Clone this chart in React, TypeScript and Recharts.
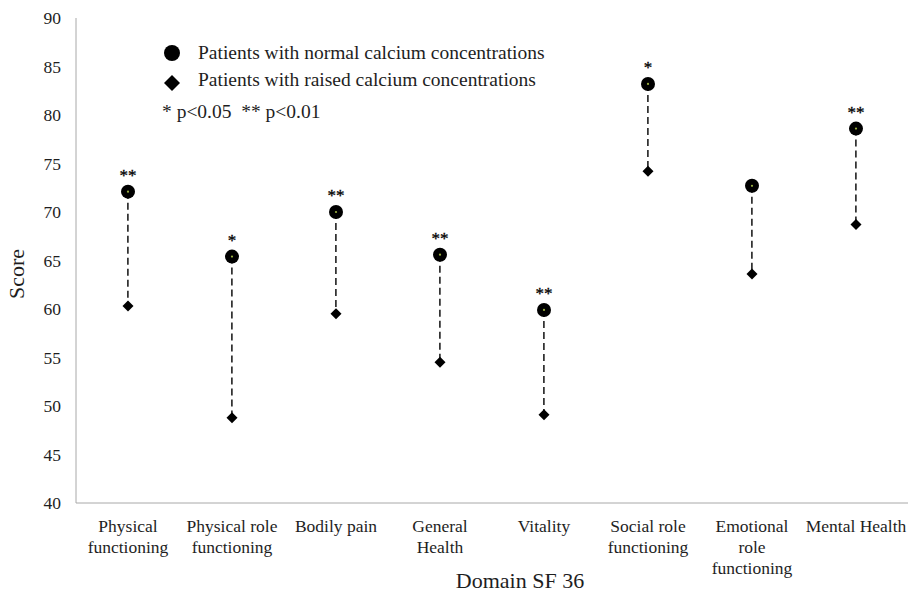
import React from "react";
import { ComposedChart, XAxis, YAxis, Bar, Line, Legend, Label } from "recharts";

const categories = [
  "Physical\nfunctioning",
  "Physical role\nfunctioning",
  "Bodily pain",
  "General\nHealth",
  "Vitality",
  "Social role\nfunctioning",
  "Emotional\nrole\nfunctioning",
  "Mental Health",
];
const normalScores = [72.1, 65.4, 70.0, 65.6, 59.9, 83.2, 72.7, 78.6];
const raisedScores = [60.3, 48.8, 59.5, 54.5, 49.1, 74.2, 63.6, 68.7];
const significance = ["**", "*", "**", "**", "**", "*", "", "**"];
const yTicks = [40, 45, 50, 55, 60, 65, 70, 75, 80, 85, 90];

const seriesNames = [
  "Patients with normal calcium concentrations",
  "Patients with raised calcium concentrations",
];
const pNote = "* p<0.05  ** p<0.01";

const data = categories.map((name, i) => ({
  name,
  normal: normalScores[i],
  raised: raisedScores[i],
  range: [raisedScores[i], normalScores[i]],
  sig: significance[i],
}));

const FONT = "'Liberation Serif', 'Times New Roman', serif";
const TEXT = "#1e1e1e";

const XTick = (props: any) => {
  const { x, y, payload } = props;
  const lines = String(payload.value).split("\n");
  return (
    <g>
      {lines.map((l, i) => (
        <text key={i} x={x} y={y + 27 + i * 21} textAnchor="middle" fontFamily={FONT} fontSize={17.5} fill={TEXT}>
          {l}
        </text>
      ))}
    </g>
  );
};

const DashShape = (props: any) => {
  const { x, y, width, height } = props;
  if (x == null || y == null) return null;
  const cx = x + width / 2;
  return <line x1={cx} x2={cx} y1={y} y2={y + height} stroke="#111" strokeWidth={1.5} strokeDasharray="7 4" />;
};

const CircleDot = (props: any) => {
  const { cx, cy, index, payload } = props;
  if (cx == null || cy == null) return <g key={index} />;
  return (
    <g key={index}>
      <circle cx={cx} cy={cy} r={7} fill="#000" />
      <circle cx={cx} cy={cy} r={1.1} fill="#9bb040" />
      {payload && payload.sig ? (
        <text x={cx} y={cy - 11} textAnchor="middle" fontFamily={FONT} fontSize={17} fill="#000" stroke="#000" strokeWidth={0.3}>
          {payload.sig}
        </text>
      ) : null}
    </g>
  );
};

const DiamondDot = (props: any) => {
  const { cx, cy, index } = props;
  if (cx == null || cy == null) return <g key={index} />;
  const s = 5.5;
  return <path key={index} d={`M${cx},${cy - s}L${cx + s},${cy}L${cx},${cy + s}L${cx - s},${cy}Z`} fill="#000" />;
};

const LegendContent = () => (
  <div style={{ position: "relative", width: 600, height: 130, fontFamily: FONT, color: TEXT }}>
    <svg style={{ position: "absolute", left: 162, top: 43 }} width={20} height={20}>
      <circle cx={10} cy={10} r={8} fill="#000" />
    </svg>
    <div style={{ position: "absolute", left: 198, top: 41, fontSize: 19.5, lineHeight: "24px", whiteSpace: "nowrap" }}>
      {seriesNames[0]}
    </div>
    <svg style={{ position: "absolute", left: 162, top: 73 }} width={20} height={20}>
      <path d="M10,2L18,10L10,18L2,10Z" fill="#000" />
    </svg>
    <div style={{ position: "absolute", left: 198, top: 68, fontSize: 19.5, lineHeight: "24px", whiteSpace: "nowrap" }}>
      {seriesNames[1]}
    </div>
    <div style={{ position: "absolute", left: 162, top: 100, fontSize: 19.5, lineHeight: "24px", whiteSpace: "pre" }}>
      {pNote}
    </div>
  </div>
);

export default function App() {
  return (
    <div style={{ position: "absolute", left: 0, top: 0, background: "#fff" }}>
      <ComposedChart width={908} height={594} data={data} margin={{ top: 18, right: 0, bottom: 0, left: 0 }}>
        <XAxis
          dataKey="name"
          interval={0}
          height={91}
          tickLine={false}
          tickSize={0}
          axisLine={{ stroke: "#a8a8a8", strokeWidth: 1 }}
          tick={<XTick />}
        >
          <Label
            content={() => (
              <text x={520} y={588} textAnchor="middle" fontFamily={FONT} fontSize={22} fill={TEXT}>
                Domain SF 36
              </text>
            )}
          />
        </XAxis>
        <YAxis
          type="number"
          domain={[40, 90]}
          ticks={yTicks}
          width={76}
          tickLine={false}
          tickSize={0}
          tickMargin={15}
          axisLine={{ stroke: "#a8a8a8", strokeWidth: 1 }}
          tick={{ fontFamily: FONT, fontSize: 17.5, fill: TEXT }}
        >
          <Label
            content={() => (
              <text
                x={24}
                y={274}
                textAnchor="middle"
                fontFamily={FONT}
                fontSize={22}
                fill={TEXT}
                transform="rotate(-90 24 274)"
              >
                Score
              </text>
            )}
          />
        </YAxis>
        <Legend layout="horizontal" verticalAlign="middle" align="center" wrapperStyle={{ top: 0, left: 0, width: 600, height: 130 }} content={<LegendContent />} />
        <Bar dataKey="range" isAnimationActive={false} shape={<DashShape />} fill="none" />
        <Line dataKey="raised" stroke="none" isAnimationActive={false} dot={DiamondDot} activeDot={false} legendType="diamond" />
        <Line dataKey="normal" stroke="none" isAnimationActive={false} dot={CircleDot} activeDot={false} legendType="circle" />
      </ComposedChart>
    </div>
  );
}
